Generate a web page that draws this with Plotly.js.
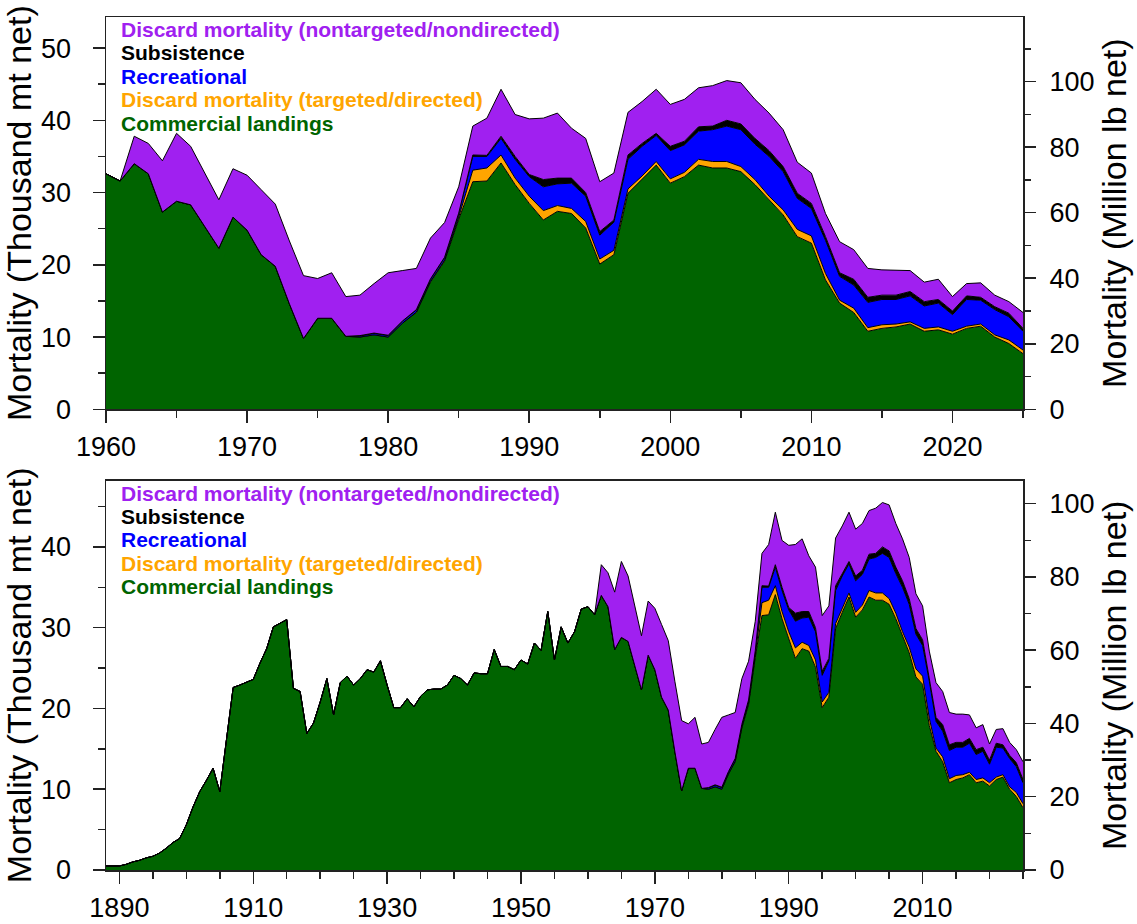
<!DOCTYPE html>
<html>
<head>
<meta charset="utf-8">
<script src="https://cdn.plot.ly/plotly-3.0.1.min.js"></script>
<style>
  html, body { margin: 0; padding: 0; background: #fff; }
  #chart { width: 1137px; height: 924px; }
</style>
</head>
<body>
<div id="chart"></div>
<script>
// ---------------- DATA (thousand metric tons, net) ----------------
const years = [
  1888,1889,1890,1891,1892,1893,1894,1895,1896,1897,1898,1899,
  1900,1901,1902,1903,1904,1905,1906,1907,1908,1909,
  1910,1911,1912,1913,1914,1915,1916,1917,1918,1919,
  1920,1921,1922,1923,1924,1925,1926,1927,1928,1929,
  1930,1931,1932,1933,1934,1935,1936,1937,1938,1939,
  1940,1941,1942,1943,1944,1945,1946,1947,1948,1949,
  1950,1951,1952,1953,1954,1955,1956,1957,1958,1959,
  1960,1961,1962,1963,1964,1965,1966,1967,1968,1969,
  1970,1971,1972,1973,1974,1975,1976,1977,1978,1979,
  1980,1981,1982,1983,1984,1985,1986,1987,1988,1989,
  1990,1991,1992,1993,1994,1995,1996,1997,1998,1999,
  2000,2001,2002,2003,2004,2005,2006,2007,2008,2009,
  2010,2011,2012,2013,2014,2015,2016,2017,2018,2019,
  2020,2021,2022,2023,2024,2025
];

const commercialLandings = [
  0.5,0.5,0.5,0.7,1.0,1.2,1.5,1.7,2.1,2.7,3.4,3.9,
  5.6,7.8,9.7,11.1,12.6,9.7,16.5,22.6,22.9,23.3,
  23.6,25.6,27.4,30.1,30.6,31.0,22.5,22.1,16.9,18.2,
  20.8,23.7,19.2,23.2,24.0,22.9,23.7,24.8,24.5,25.9,
  22.9,20.1,20.1,21.2,20.2,21.5,22.3,22.4,22.4,22.9,
  24.1,23.7,22.9,24.4,24.3,24.3,27.3,25.2,25.2,24.8,
  26.0,25.5,28.1,27.2,32.0,26.0,30.1,28.1,29.5,32.3,
  32.6,31.6,34.0,32.6,27.3,28.8,28.3,25.3,22.3,26.6,
  24.8,21.4,19.8,14.6,9.8,12.6,12.6,10.1,10.0,10.3,
  10.0,11.9,13.4,17.6,20.5,26.3,31.5,31.6,34.1,31.1,
  28.5,26.2,27.4,27.1,25.1,20.1,21.4,29.9,31.9,33.8,
  31.3,32.2,33.8,33.4,33.4,32.9,31.1,29.0,26.9,23.9,
  23.0,17.9,14.7,13.4,10.8,11.2,11.4,11.8,10.8,11.0,
  10.4,11.2,11.5,10.0,9.1,7.7
];

// The four other components start in 1960
const firstYearOther = 1960;

const discardDirected = [
  0,0,0,0,0,0,0,0,0,0,
  0,0,0,0,0,0,0,0,0,0,
  0,0,0.05,0.1,0.15,0.3,1.6,1.8,1.1,0.9,
  1.0,1.3,0.8,0.7,0.9,0.7,0.6,0.6,0.4,0.5,
  0.6,0.6,0.8,0.9,0.9,0.7,0.7,0.5,0.7,1.0,
  1.0,0.9,0.4,0.6,0.5,0.5,0.4,0.3,0.4,0.4,
  0.4,0.3,0.3,0.3,0.5,0.5
];

const recreational = [
  0,0,0,0,0,0,0,0,0,0,
  0,0,0,0,0,0,0,0,0.15,0.2,
  0.2,0.25,0.3,0.3,0.35,0.5,1.9,1.6,2.3,2.6,
  2.7,3.3,3.0,3.5,3.5,3.3,3.9,4.1,4.1,3.6,
  3.9,3.8,3.9,4.4,4.9,5.1,4.9,5.5,5.3,4.3,
  3.8,4.6,3.3,3.2,3.5,3.5,3.4,3.6,3.1,3.3,
  2.3,3.7,3.3,3.5,3.2,2.6
];

const subsistence = [
  0,0,0,0,0,0,0,0,0,0,
  0,0,0,0,0,0,0,0,0.05,0.05,
  0.05,0.05,0.05,0.05,0.05,0.05,0.2,0.15,0.3,0.4,
  0.3,1.0,0.8,0.7,0.5,0.5,0.3,0.6,0.4,0.3,
  0.6,0.5,0.6,0.5,0.8,0.8,0.8,0.8,0.7,0.7,
  0.7,0.5,0.5,0.8,0.7,0.6,0.6,0.6,0.6,0.5,
  0.5,0.5,0.4,0.4,0.5,0.4
];

const discardNondirected = [
  0,0,3.8,4.2,7.1,9.4,8.1,7.4,6.7,6.7,
  7.6,9.0,8.6,8.7,8.7,5.5,6.3,5.5,5.6,6.85,
  8.65,7.0,5.7,5.65,4.8,3.65,4.0,5.15,6.5,5.8,
  7.7,8.5,9.0,6.9,7.5,6.9,6.5,5.9,5.8,6.1,
  5.8,5.8,5.4,5.6,5.5,5.7,5.4,5.2,5.1,4.3,
  4.2,3.2,4.3,4.1,4.0,3.5,3.5,2.9,2.7,2.8,
  2.0,1.7,2.0,1.6,1.6,2.2
];

const seriesNames = [
  "Commercial landings",
  "Discard mortality (targeted/directed)",
  "Recreational",
  "Subsistence",
  "Discard mortality (nontargeted/nondirected)"
];
const seriesColors = ["#006400", "#FFA500", "#0000FF", "#000000", "#A020F0"];

const MT_TO_MLB = 2.20462; // thousand mt -> million lb

// ---------------- BUILD ----------------
const startIdx = years.indexOf(firstYearOther);
const yearsRecent = years.slice(startIdx);
const commercialRecent = commercialLandings.slice(startIdx);
const pad = new Array(startIdx).fill(0);
const otherSeries = [discardDirected, recreational, subsistence, discardNondirected];

function makeTraces(xs, seriesList, xa, ya, group) {
  return seriesList.map((vals, i) => ({
    type: "scatter",
    mode: "lines",
    x: xs,
    y: vals,
    xaxis: xa,
    yaxis: ya,
    stackgroup: group,
    fillcolor: seriesColors[i],
    line: { color: "#000000", width: 1 },
    name: seriesNames[i],
    showlegend: false,
    hoverinfo: "x+y+name"
  }));
}

// total mortality in million lb (drawn invisibly on the right-hand axes so they render)
function totalsMlb(list) {
  return list[0].map((_, j) => list.reduce((s, arr) => s + arr[j], 0) * MT_TO_MLB);
}

const topList = [commercialRecent].concat(otherSeries);
const bottomList = [commercialLandings].concat(otherSeries.map(s => pad.concat(s)));

const topTraces = makeTraces(yearsRecent, topList, "x", "y", "top");
const bottomTraces = makeTraces(years, bottomList, "x2", "y3", "bottom");

const rightTraces = [
  { type: "scatter", mode: "lines", x: yearsRecent, y: totalsMlb(topList), xaxis: "x", yaxis: "y2",
    line: { width: 0, color: "rgba(0,0,0,0)" }, opacity: 0, hoverinfo: "skip", showlegend: false },
  { type: "scatter", mode: "lines", x: years, y: totalsMlb(bottomList), xaxis: "x2", yaxis: "y4",
    line: { width: 0, color: "rgba(0,0,0,0)" }, opacity: 0, hoverinfo: "skip", showlegend: false }
];

const FONT = "Liberation Sans, Arial, Helvetica, sans-serif";
const tickFont = { family: FONT, size: 27, color: "#000" };
const titleFont = { family: FONT, size: 34, color: "#000" };
const AX = "#222";

function xAxis(range, tick0, dtick, anchor) {
  return {
    anchor: anchor, domain: [0, 1], range: range,
    tick0: tick0, dtick: dtick, ticks: "outside", ticklen: 12, tickwidth: 1.5, tickcolor: AX,
    minor: { dtick: 5, tick0: tick0, ticks: "outside", ticklen: 7, tickwidth: 1.5, tickcolor: AX, showgrid: false },
    showline: true, linecolor: AX, linewidth: 1.5, mirror: true,
    showgrid: false, zeroline: false, tickfont: tickFont, ticklabelstandoff: 1
  };
}
function yLeft(domain, range, anchor) {
  return {
    anchor: anchor, domain: domain, range: range,
    tick0: 0, dtick: 10, ticks: "outside", ticklen: 12, tickwidth: 1.5, tickcolor: AX,
    minor: { dtick: 5, ticks: "outside", ticklen: 7, tickwidth: 1.5, tickcolor: AX, showgrid: false },
    showline: true, linecolor: AX, linewidth: 1.5, mirror: true,
    showgrid: false, zeroline: false, tickfont: tickFont, ticklabelstandoff: 16,
    title: { text: "Mortality (Thousand mt net)", font: titleFont, standoff: 0 }
  };
}
function yRight(overlay, anchor, range) {
  return {
    overlaying: overlay, anchor: anchor, side: "right", range: range,
    tick0: 0, dtick: 20, ticks: "outside", ticklen: 12, tickwidth: 1.5, tickcolor: AX,
    minor: { dtick: 10, ticks: "outside", ticklen: 7, tickwidth: 1.5, tickcolor: AX, showgrid: false },
    showline: false, showgrid: false, zeroline: false, tickfont: tickFont, ticklabelstandoff: 8,
    title: { text: "Mortality (Million lb net)", font: titleFont, standoff: 8 }
  };
}

const topMax = 54.3, botMax = 48.2;

function legendAnnotations(yPositions) {
  const order = [4, 3, 2, 1, 0];
  return order.map((si, k) => ({
    xref: "paper", yref: "paper", x: 0.0142, y: yPositions[k],
    xanchor: "left", yanchor: "middle", showarrow: false,
    text: "<b>" + seriesNames[si] + "</b>",
    font: { family: FONT, size: 21, color: seriesColors[si] }
  }));
}

const layout = {
  width: 1137, height: 924,
  margin: { l: 106, r: 114, t: 17, b: 54 },
  paper_bgcolor: "#fff", plot_bgcolor: "#fff",
  showlegend: false,
  xaxis: xAxis([1960, 2025], 1960, 10, "y"),
  yaxis: yLeft([0.5401, 1], [0, topMax], "x"),
  yaxis2: yRight("y", "x", [0, topMax * MT_TO_MLB]),
  xaxis2: xAxis([1888, 2025], 1890, 20, "y3"),
  yaxis3: yLeft([0, 0.4564], [0, botMax], "x2"),
  yaxis4: yRight("y3", "x2", [0, botMax * MT_TO_MLB]),
  annotations: legendAnnotations([0.9848, 0.9578, 0.9308, 0.9027, 0.8757])
    .concat(legendAnnotations([0.4416, 0.4142, 0.3869, 0.3596, 0.3321]))
};

Plotly.newPlot("chart", topTraces.concat(bottomTraces, rightTraces), layout,
  { displayModeBar: false, staticPlot: true });
</script>
</body>
</html>
